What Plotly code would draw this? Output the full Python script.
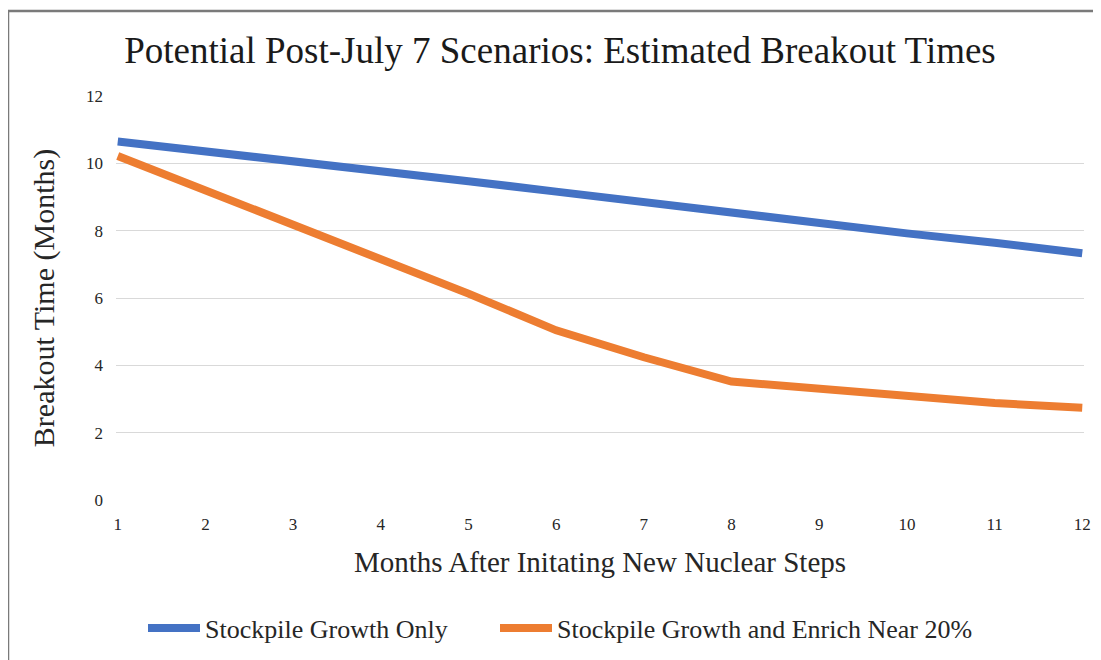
import plotly.graph_objects as go

months = [1, 2, 3, 4, 5, 6, 7, 8, 9, 10, 11, 12]
stockpile_only = [10.65, 10.37, 10.07, 9.76, 9.47, 9.16, 8.84, 8.56, 8.25, 7.92, 7.64, 7.33]
stockpile_enrich = [10.22, 9.2, 8.17, 7.15, 6.13, 5.04, 4.24, 3.52, 3.31, 3.08, 2.88, 2.74]
series_names = ["Stockpile Growth Only", "Stockpile Growth and Enrich Near 20%"]
y_ticks = [0, 2, 4, 6, 8, 10, 12]

# page body has an 8px margin; build the figure in page coordinates
OFF = 8
W, H = 1101 - OFF, 660 - OFF
PL, PR, PT, PB = 116, 1084, 96, 500   # plot area in page coords
L, R, T, B = PL - OFF, (1101 - PR), PT - OFF, (660 - PB)
FONT = "Liberation Serif"

fig = go.Figure()
fig.add_trace(go.Scatter(x=months, y=stockpile_only, mode="lines", name=series_names[0],
                         line=dict(color="#4472C4", width=8), legend="legend"))
fig.add_trace(go.Scatter(x=months, y=stockpile_enrich, mode="lines", name=series_names[1],
                         line=dict(color="#ED7D31", width=8), legend="legend2"))

pw = PR - PL
ph = PB - PT
def px_x(x):
    return (x - PL) / pw
def px_y(y):
    return (PB - y) / ph

leg_font = dict(family=FONT, size=26, color="#262626")
fig.update_layout(
    width=W, height=H,
    margin=dict(l=L, r=R, t=T, b=B, autoexpand=False),
    paper_bgcolor="white", plot_bgcolor="white",
    font=dict(family=FONT, color="#262626"),
    title=dict(text="Potential Post-July 7 Scenarios: Estimated Breakout Times",
               x=px_x(560), xref="paper", xanchor="center",
               y=1 - (50 - OFF) / H, yanchor="middle",
               font=dict(family=FONT, size=37, color="#1a1a1a")),
    xaxis=dict(range=[0.98, 12.02], tickvals=months, ticktext=[str(m) for m in months],
               showgrid=False, zeroline=False, showline=False, ticks="",
               tickfont=dict(family=FONT, size=17, color="#262626"),
               ticklabelstandoff=12,
               title=dict(text="Months After Initating New Nuclear Steps",
                          font=dict(family=FONT, size=29, color="#262626"), standoff=18)),
    yaxis=dict(range=[0, 12], tickvals=y_ticks, showgrid=True, gridcolor="#d9d9d9", gridwidth=1,
               zeroline=False, showline=False, ticks="",
               tickfont=dict(family=FONT, size=17, color="#262626"),
               ticklabelstandoff=12,
               title=dict(text="Breakout Time (Months)",
                          font=dict(family=FONT, size=30, color="#262626"), standoff=22)),
    legend=dict(orientation="h", x=px_x(143), xanchor="left", y=px_y(628), yanchor="middle",
                font=leg_font, itemwidth=52),
    legend2=dict(orientation="h", x=px_x(495), xanchor="left", y=px_y(628), yanchor="middle",
                 font=leg_font, itemwidth=52),
    showlegend=True,
    shapes=[
        dict(type="line", xref="paper", yref="paper", x0=px_x(8), x1=px_x(1101), y0=px_y(11), y1=px_y(11),
             line=dict(color="#7a7a7a", width=2.5)),
        dict(type="line", xref="paper", yref="paper", x0=px_x(8), x1=px_x(8), y0=px_y(11), y1=px_y(660),
             line=dict(color="#7a7a7a", width=2.5)),
    ],
)

fig.write_html("out.html")
